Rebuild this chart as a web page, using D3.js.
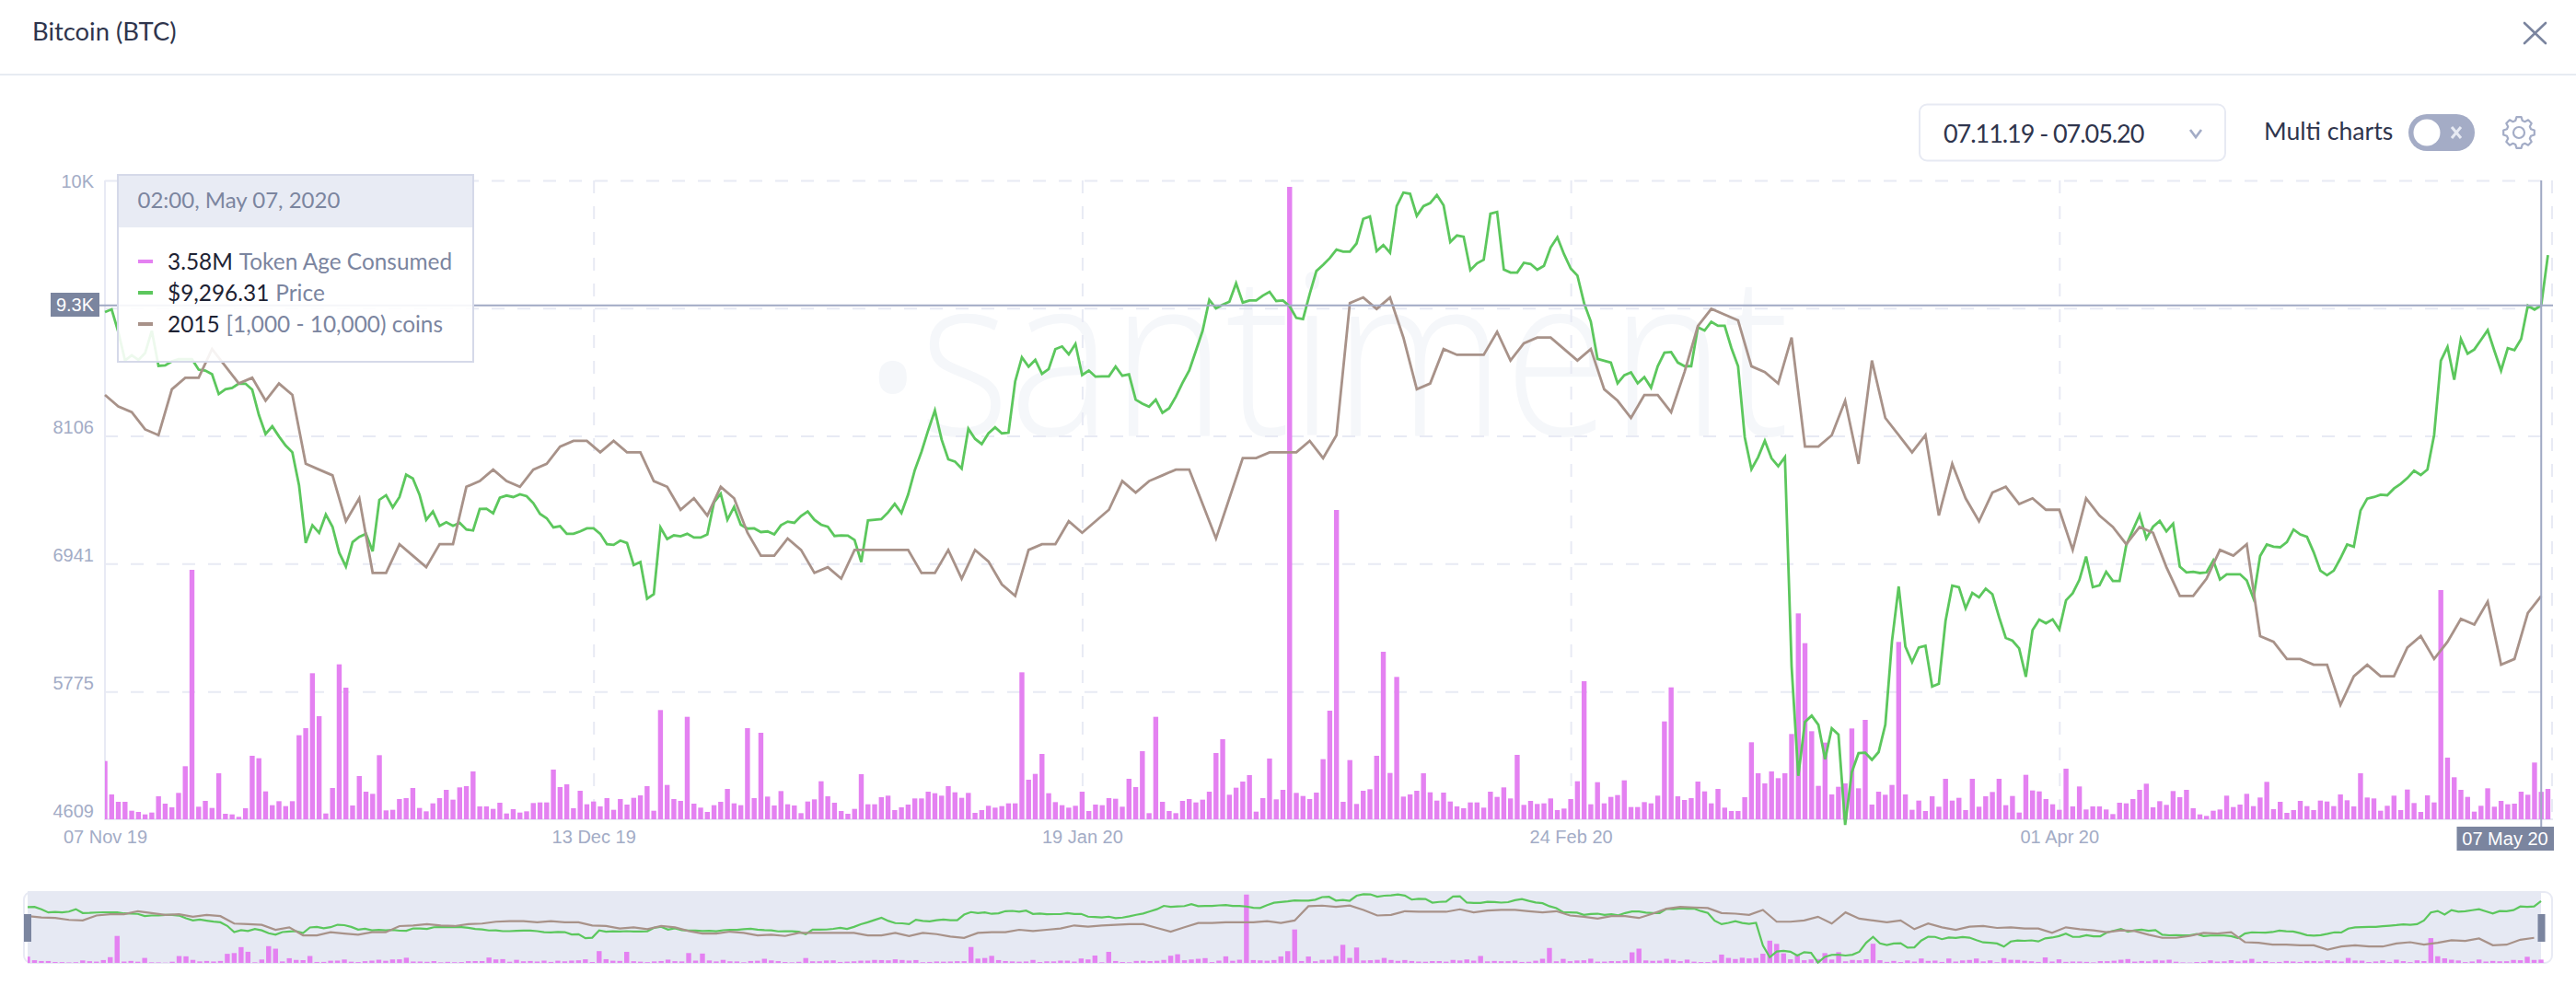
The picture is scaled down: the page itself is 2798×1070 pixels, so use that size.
<!DOCTYPE html>
<html><head><meta charset="utf-8">
<script src="https://cdn.jsdelivr.net/npm/d3@7/dist/d3.min.js"></script>
<style>html,body{margin:0;padding:0;background:#fff}svg{display:block}</style>
</head><body><div id="chart"></div>
<script>
const title = "Bitcoin (BTC)";
const dateRange = "07.11.19 - 07.05.20";
const multiCharts = "Multi charts";
const tooltipDate = "02:00, May 07, 2020";
const legendValues = ["3.58M", "$9,296.31", "2015"];
const legendNames = ["Token Age Consumed", "Price", "[1,000 - 10,000) coins"];
const xTickIndex = [0, 73, 146, 219, 292];
const xTickLabels = ["07 Nov 19", "13 Dec 19", "19 Jan 20", "24 Feb 20", "01 Apr 20"];
const yTickValues = [4609, 5775, 6941, 8106, 9271, 10436];
const yTickLabels = ["4609", "5775", "6941", "8106", "9271", "10K"];
const cursorIndex = 364, cursorPrice = 9296.31, cursorPriceLabel = "9.3K", cursorDateLabel = "07 May 20";

// Token Age Consumed, millions, one value per 12 hours
const tokenAge = [7.6,3.24,2.28,2.28,1.12,.96,.64,.88,3.0,2.04,1.56,3.44,6.92,32.52,1.64,2.4,1.48,6.0,.72,.64,
.32,1.44,8.28,7.96,3.64,1.84,2.36,1.72,2.36,10.96,
11.88,19.04,13.44,.76,4.08,20.2,17.16,1.8,5.64,3.6,
3.32,8.36,1.16,1.24,2.64,2.76,4.08,1.48,1.04,2.08,
2.76,3.84,2.56,4.16,4.32,6.24,1.68,1.68,1.36,2.16,
.76,1.32,.88,1.04,2.12,2.2,2.2,6.48,4.2,4.56,
1.44,3.72,1.96,2.32,1.68,2.76,1.24,2.64,1.92,2.8,
3.12,4.32,1.12,14.24,4.48,2.64,2.4,13.36,2.04,1.52,
.96,1.84,2.28,3.96,2.08,1.84,11.88,2.76,11.28,2.96,
1.8,3.68,1.96,1.8,.8,2.32,2.6,4.96,3.0,2.16,
1.08,.72,1.36,5.88,1.96,1.96,2.88,3.08,1.2,1.56,
1.92,2.72,2.72,3.6,3.4,3.08,4.32,3.52,2.8,3.44,
.84,1.2,1.76,1.52,1.72,2.08,2.08,19.16,5.16,5.92,
8.52,3.4,2.24,1.84,1.52,1.76,3.6,1.08,1.92,1.84,
2.76,2.68,1.64,5.28,4.2,8.88,.8,13.36,2.28,1.08,
.8,2.4,2.64,2.2,2.56,3.6,8.64,10.44,3.2,4.12,
4.92,5.76,1.0,2.76,7.92,2.6,3.84,82.44,3.44,3.04,
2.64,3.48,7.84,14.16,40.32,2.28,7.72,2.0,3.72,3.92,
8.28,21.84,6.04,18.56,2.96,3.24,3.72,6.0,3.52,2.44,
3.48,2.32,1.68,1.44,2.2,2.2,1.52,3.6,2.92,4.16,
2.72,8.4,1.88,2.4,2.0,2.08,2.72,1.2,1.4,2.64,
4.96,18.0,1.96,4.84,2.08,2.92,3.16,5.08,1.6,1.6,
2.24,2.08,3.08,12.76,17.2,3.0,2.52,2.76,4.92,3.64,
2.08,3.96,1.52,1.08,1.08,2.88,10.04,6.0,4.68,6.24,
5.36,6.0,11.12,26.84,22.96,11.48,4.36,10.0,3.24,4.24,
4.68,11.84,4.04,12.96,1.92,3.6,3.2,4.48,23.12,3.24,
1.24,2.44,1.08,3.0,1.64,5.28,2.44,2.8,1.2,5.28,
1.64,3.0,3.56,5.28,1.84,3.04,.88,5.8,3.76,3.64,
2.64,1.96,1.24,6.6,1.68,4.28,1.28,1.68,1.68,1.28,
.68,2.16,2.08,2.64,3.84,4.64,1.56,2.36,1.88,3.68,
2.88,3.84,1.44,.64,.44,1.12,1.28,3.08,1.6,1.92,
3.32,1.72,2.84,4.88,1.32,2.28,.84,1.2,2.4,1.72,
1.2,2.44,2.32,1.72,3.24,2.48,1.68,6.0,2.84,2.72,
1.12,1.76,3.08,1.2,3.88,2.12,.96,3.12,2.2,29.88,
8.04,5.48,3.84,2.92,1.0,1.76,4.04,1.64,2.4,1.96,
2.04,3.6,3.2,7.4,3.58,3.96];

// BTC price, USD, one value per 12 hours
const price = [9235,9260,9051,8794,8841,8799,8861,9065,8744,8749,8786,8805,8805,8805,8710,8702,8668,8487,8531,8543,
8584,8582,8528,8297,8123,8193,8101,8017,7956,7654,
7129,7291,7221,7389,7277,7040,6914,7137,7185,7213,
7053,7523,7565,7453,7548,7752,7718,7570,7341,7417,
7285,7319,7285,7313,7252,7243,7439,7442,7400,7542,
7562,7548,7573,7556,7492,7394,7355,7271,7283,7213,
7213,7235,7263,7263,7213,7118,7112,7151,7129,6928,
6956,6620,6662,7271,7165,7199,7190,7213,7179,7179,
7207,7500,7579,7341,7458,7296,7260,7263,7229,7235,
7207,7291,7324,7313,7375,7417,7341,7296,7277,7193,
7199,7196,7157,6956,7335,7341,7347,7408,7486,7403,
7570,7794,7961,8157,8338,8073,7892,7872,7808,8171,
8079,8031,8129,8185,8129,8135,8604,8822,8738,8799,
8671,8716,8897,8922,8850,8945,8660,8702,8646,8649,
8649,8738,8654,8668,8436,8400,8372,8436,8316,8358,
8464,8590,8702,8883,9065,9347,9269,9302,9330,9498,
9322,9341,9341,9386,9420,9336,9341,9288,9182,9171,
9400,9610,9666,9727,9805,9786,9786,9861,10085,10108,
9791,9847,9777,10202,10325,10314,10113,10202,10230,10303,
10210,9875,9934,9923,9618,9680,9713,10132,10149,9624,
9596,9596,9685,9674,9621,9657,9825,9917,9763,9632,
9568,9316,9149,8808,8792,8775,8586,8659,8685,8586,
8642,8546,8742,8865,8871,8775,8742,8742,9097,9067,
9147,9110,9110,8908,8742,8094,7802,7912,8061,7902,
7829,7912,6002,5006,5498,5554,5471,5156,5438,5382,
4558,5040,5212,5216,5152,5222,5471,6235,6733,6185,
6042,6175,6192,5820,5846,6418,6740,6726,6534,6673,
6634,6713,6662,6453,6263,6238,6168,5908,6335,6430,
6397,6433,6341,6606,6671,6794,7006,6727,6743,6866,
6782,6782,7109,7249,7386,7171,7277,7330,7235,7305,
6914,6861,6866,6855,6861,6970,6796,6844,6844,6844,
6788,6626,7011,7115,7095,7090,7137,7252,7207,7185,
7045,6877,6835,6877,6989,7115,7095,7425,7534,7548,
7570,7565,7626,7668,7721,7788,7749,7799,8115,8791,
8917,8618,8989,8855,8894,8981,9070,8883,8702,8906,
8889,8989,9294,9258,9296.31,9755];

// Addresses holding [1,000 - 10,000) coins, one value per day
const holders = [2050,2048,2047,2044,2043,2051,2053,2053,2058,2055,2052,2053,2049,2052,2050,2038,2037,2036,2028,2032,
2019,2019,2024,2022,2020,2024,2024,2034,2035,2037,2035,2034,2037,2038,2041,2042,2042,2040,2042,2040,
2040,2035,2034,2030,2032,2029,2034,2032,2026,2022,2022,2025,2023,2019,2020,2018,2023,2023,2023,2023,
2023,2019,2019,2023,2018,2023,2021,2017,2015,2023,2024,2024,2028,2026,2028,2030,2035,2033,2035,2036,
2037,2037,2031,2025,2032,2039,2039,2040,2040,2040,2042,2039,2043,2066,2067,2065,2067,2060,2051,2052,
2058,2057,2057,2057,2061,2056,2059,2060,2060,2058,2056,2058,2051,2049,2046,2050,2050,2047,2054,2062,
2065,2064,2063,2055,2054,2052,2060,2041,2041,2043,2049,2038,2056,2046,2043,2040,2043,2029,2038,2032,
2028,2033,2034,2031,2032,2030,2030,2023,2032,2029,2027,2024,2027,2026,2020,2015,2015,2018,2023,2022,
2024,2008,2007,2004,2004,2003,2003,1996,2001,2003,2001,2001,2006,2008,2004,2007,2011,2010,2014,2003,
2004,2012,2015];

const W = 2798, H = 1070;
const C = {bar:"#e481f1", price:"#5cc75d", coins:"#a89289", grid:"#e8eaf4", tick:"#a3acc6", dark:"#2f354d",
           slate:"#7b859f", cross:"#a0a9c4", band:"#e6e9f3", mark:"#f5f7fa"};
const UI = "Lato, 'Open Sans', sans-serif", AX = "'Liberation Sans', Arial, sans-serif";

const svg = d3.select("#chart").append("svg").attr("width",W).attr("height",H).attr("viewBox",`0 0 ${W} ${H}`);
svg.append("rect").attr("width",W).attr("height",H).attr("fill","#fff");

// header
svg.append("text").attr("x",35).attr("y",44).attr("font-family",UI).attr("font-size",27.4).attr("fill",C.dark).text(title);
svg.append("line").attr("x1",0).attr("x2",W).attr("y1",81).attr("y2",81).attr("stroke","#e7ebf2").attr("stroke-width",2);
svg.append("path").attr("d","M2742 25L2765 47M2765 25L2742 47").attr("stroke",C.slate).attr("stroke-width",2.6).attr("fill","none").attr("stroke-linecap","round");
svg.append("rect").attr("x",2085).attr("y",113.5).attr("width",332).attr("height",61).attr("rx",8)
   .attr("fill","#fff").attr("stroke","#e7eaf3").attr("stroke-width",2);
svg.append("text").attr("x",2111).attr("y",155).attr("font-family",UI).attr("font-size",27).attr("letter-spacing",-1.05).attr("fill",C.dark).text(dateRange);
svg.append("path").attr("d","M2379 141L2385 149L2391 141").attr("stroke",C.tick).attr("stroke-width",2.6).attr("fill","none");
svg.append("text").attr("x",2459).attr("y",152).attr("font-family",UI).attr("font-size",26.6).attr("fill",C.dark).text(multiCharts);
svg.append("rect").attr("x",2616).attr("y",124).attr("width",72).attr("height",40).attr("rx",20).attr("fill","#a4acc6");
svg.append("circle").attr("cx",2636).attr("cy",144).attr("r",14.5).attr("fill","#fff");
svg.append("path").attr("d","M2663 138L2673 150M2673 138L2663 150").attr("stroke","#e7eaf3").attr("stroke-width",3).attr("fill","none");
// gear icon
const gearPts = d3.range(0,8).flatMap(k=>{
  const a=k*Math.PI/4; const s=0.19;
  return [[a-s*1.5,13.5],[a-s*0.8,17],[a+s*0.8,17],[a+s*1.5,13.5]];
});
svg.append("path").attr("transform","translate(2736,144)")
   .attr("d",d3.lineRadial().curve(d3.curveLinearClosed)(gearPts))
   .attr("fill","none").attr("stroke",C.tick).attr("stroke-width",2.2).attr("stroke-linejoin","round");
svg.append("circle").attr("cx",2736).attr("cy",144).attr("r",6).attr("fill","none").attr("stroke",C.tick).attr("stroke-width",2.2);

// scales
const L=114, R=2767.5, T=196, B=890, GR=2772;
const x = d3.scaleLinear().domain([0,365]).range([L,R]);
const yPrice = d3.scaleLinear().domain([4609,10436]).range([B,T]);
const yCoins = d3.scaleLinear().domain([1976.07,2087.38]).range([B,T]);
const yBars = d3.scaleLinear().domain([0,83.28]).range([B,T]);
const mx = d3.scaleLinear().domain([0,365]).range([30,2760]);
const myPrice = d3.scaleLinear().domain(yPrice.domain()).range([1045,970]);
const myCoins = d3.scaleLinear().domain(yCoins.domain()).range([1045,970]);
const myBars = d3.scaleLinear().domain(yBars.domain()).range([1046,971]);

// watermark: the dot sits at mid-height of the word
const mark = svg.append("text").attr("transform","translate(941,473) scale(0.86,1)").attr("font-family","'Open Sans', sans-serif").attr("font-weight",300)
   .attr("font-size",244).attr("fill",C.mark);
mark.append("tspan").attr("dy",-48).attr("font-weight",600).text(".");
mark.append("tspan").attr("dy",48).text("santiment");

// grid with axes
const gridX = svg.append("g").attr("transform",`translate(0,${T})`)
  .call(d3.axisTop(x).tickValues(xTickIndex.slice(1)).tickSize(-(B-T)).tickFormat(""));
gridX.select(".domain").remove();
svg.append("line").attr("x1",GR).attr("x2",GR).attr("y1",T).attr("y2",B).attr("class","g2");
const gridY = svg.append("g").attr("transform",`translate(${L},0)`)
  .call(d3.axisLeft(yPrice).tickValues(yTickValues).tickSize(-(GR-L)).tickFormat((d,i)=>yTickLabels[i]));
gridY.select(".domain").remove();
svg.selectAll(".tick line, .g2").attr("stroke",C.grid).attr("stroke-width",2).attr("stroke-dasharray","14 14");
gridY.selectAll(".tick:first-of-type line").remove();
gridY.selectAll("text").attr("x",-12).attr("font-family",AX).attr("font-size",20).attr("fill",C.tick)
  .attr("dy",(d,i)=> i===yTickValues.length-1 ? "0.35em" : "-0.15em");
svg.append("line").attr("x1",L).attr("x2",L).attr("y1",T).attr("y2",B+1).attr("stroke",C.grid).attr("stroke-width",2);
svg.append("line").attr("x1",L).attr("x2",2773).attr("y1",B).attr("y2",B).attr("stroke",C.grid).attr("stroke-width",2);
const axisX = svg.append("g").attr("transform",`translate(0,${B})`)
  .call(d3.axisBottom(x).tickValues(xTickIndex).tickSize(0).tickFormat((d,i)=>xTickLabels[i]));
axisX.select(".domain").remove();
axisX.selectAll("text").attr("y",8).attr("dy","0.9em").attr("font-family",AX).attr("font-size",20).attr("fill",C.tick);

// clip
const defs = svg.append("defs");
defs.append("clipPath").attr("id","mainClip").append("rect").attr("x",L).attr("y",T).attr("width",W-L).attr("height",B-T+1);
defs.append("clipPath").attr("id","miniClip").append("rect").attr("x",30).attr("y",960).attr("width",2735).attr("height",90);

// bars
svg.append("g").attr("clip-path","url(#mainClip)").selectAll("rect").data(tokenAge).join("rect")
   .attr("x",(d,i)=>x(i)-2.7).attr("width",5.4).attr("y",d=>yBars(d)).attr("height",d=>B-yBars(d)).attr("fill",C.bar);

// lines
const priceLine = d3.line().x((d,i)=>x(i)).y(d=>yPrice(d));
const coinsLine = d3.line().x((d,i)=>x(i*2)).y(d=>yCoins(d));
svg.append("path").attr("d",priceLine(price)).attr("fill","none").attr("stroke",C.price).attr("stroke-width",2.8);
svg.append("path").attr("d",coinsLine(holders)).attr("fill","none").attr("stroke",C.coins).attr("stroke-width",2.8);

// cursor
const cy = yPrice(cursorPrice);
svg.append("line").attr("x1",108).attr("x2",2773).attr("y1",cy).attr("y2",cy).attr("stroke",C.cross).attr("stroke-width",2);
svg.append("line").attr("x1",x(cursorIndex)).attr("x2",x(cursorIndex)).attr("y1",T).attr("y2",898).attr("stroke",C.cross).attr("stroke-width",2);
svg.append("rect").attr("x",55).attr("y",318).attr("width",53).attr("height",26).attr("fill",C.slate);
svg.append("text").attr("x",81.5).attr("y",338).attr("text-anchor","middle").attr("font-family",AX).attr("font-size",20).attr("fill","#fff").text(cursorPriceLabel);
svg.append("rect").attr("x",2668.5).attr("y",898).attr("width",105.5).attr("height",26).attr("fill",C.slate);
svg.append("text").attr("x",2721).attr("y",918).attr("text-anchor","middle").attr("font-family",AX).attr("font-size",20).attr("fill","#fff").text(cursorDateLabel);

// tooltip
const tip = svg.append("g");
tip.append("rect").attr("x",128).attr("y",190).attr("width",386).attr("height",203).attr("fill","#fff").attr("fill-opacity",0.89);
tip.append("rect").attr("x",128).attr("y",190).attr("width",386).attr("height",57).attr("fill","#e8ebf4");
tip.append("rect").attr("x",128).attr("y",190).attr("width",386).attr("height",203).attr("fill","none").attr("stroke","#d5d9e9").attr("stroke-width",2);
tip.append("text").attr("x",149.5).attr("y",226).attr("font-family",UI).attr("font-size",24).attr("fill",C.slate).text(tooltipDate);
[C.bar,C.price,C.coins].forEach((c,i)=>{
  const yy=284+34*i;
  tip.append("rect").attr("x",150).attr("y",yy-2).attr("width",16).attr("height",4).attr("fill",c);
  const t=tip.append("text").attr("x",182).attr("y",yy+8.5).attr("font-family",UI).attr("font-size",24.4);
  t.append("tspan").attr("fill","#1d2233").text(legendValues[i]);
  t.append("tspan").attr("fill",C.slate).attr("dx",7).text(legendNames[i]);
});

// navigator
svg.append("rect").attr("x",26).attr("y",969).attr("width",2746).attr("height",77).attr("rx",8).attr("fill","#fff").attr("stroke",C.grid).attr("stroke-width",2);
svg.append("rect").attr("x",30).attr("y",968).attr("width",2730).attr("height",79).attr("fill",C.band);
svg.append("g").attr("clip-path","url(#miniClip)").selectAll("rect").data(tokenAge).join("rect")
   .attr("x",(d,i)=>mx(i)-2.7).attr("width",5.4).attr("y",d=>myBars(d)).attr("height",d=>1046-myBars(d)).attr("fill",C.bar);
svg.append("path").attr("d",d3.line().x((d,i)=>mx(i)).y(d=>myPrice(d))(price)).attr("fill","none").attr("stroke",C.price).attr("stroke-width",2.2);
svg.append("path").attr("d",d3.line().x((d,i)=>mx(i*2)).y(d=>myCoins(d))(holders)).attr("fill","none").attr("stroke",C.coins).attr("stroke-width",2.2);
svg.append("rect").attr("x",26).attr("y",993).attr("width",8).attr("height",30).attr("fill",C.slate);
svg.append("rect").attr("x",2756.5).attr("y",993).attr("width",8).attr("height",30).attr("fill",C.slate);
</script></body></html>
